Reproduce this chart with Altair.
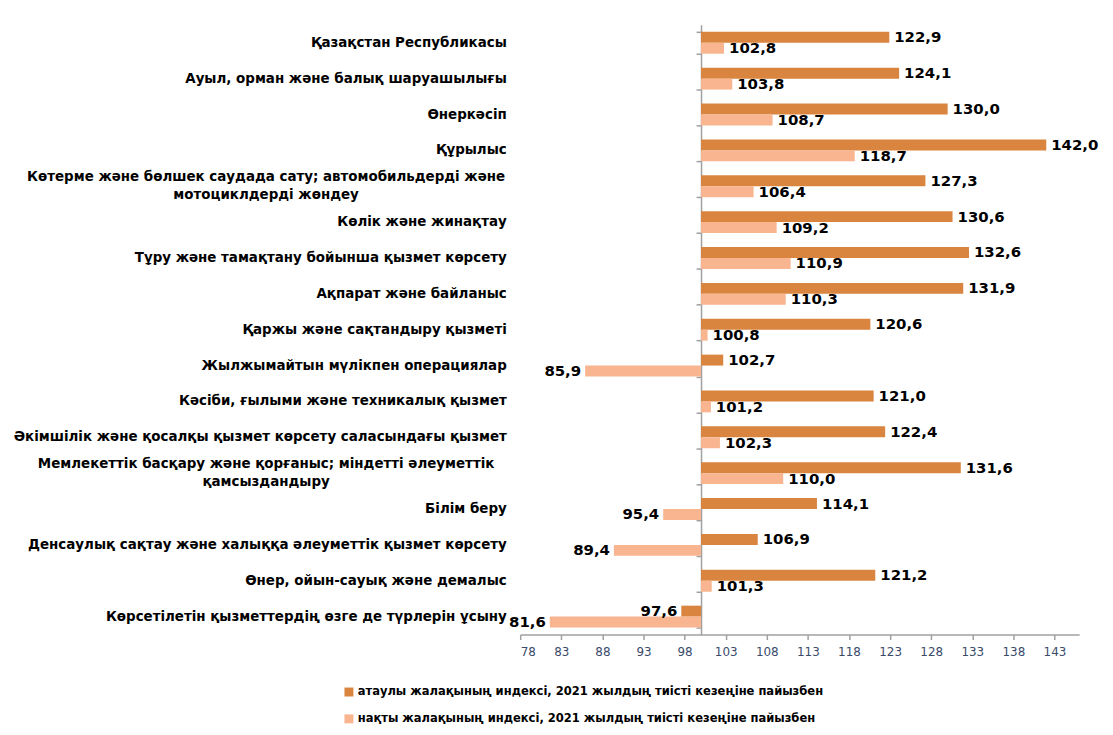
import altair as alt
import pandas as pd

categories = [
    "Қазақстан Республикасы",
    "Ауыл, орман және балық шаруашылығы",
    "Өнеркәсіп",
    "Құрылыс",
    "Көтерме және бөлшек саудада сату; автомобильдерді және|мотоциклдерді жөндеу",
    "Көлік және жинақтау",
    "Тұру және тамақтану бойынша қызмет көрсету",
    "Ақпарат және байланыс",
    "Қаржы және сақтандыру қызметі",
    "Жылжымайтын мүлікпен операциялар",
    "Кәсіби, ғылыми және техникалық қызмет",
    "Әкімшілік және қосалқы қызмет көрсету саласындағы қызмет",
    "Мемлекеттік басқару және қорғаныс; міндетті әлеуметтік|қамсыздандыру",
    "Білім беру",
    "Денсаулық сақтау және халыққа әлеуметтік қызмет көрсету",
    "Өнер, ойын-сауық және демалыс",
    "Көрсетілетін қызметтердің өзге де түрлерін ұсыну",
]
nominal = [122.9, 124.1, 130.0, 142.0, 127.3, 130.6, 132.6, 131.9, 120.6, 102.7,
           121.0, 122.4, 131.6, 114.1, 106.9, 121.2, 97.6]
real = [102.8, 103.8, 108.7, 118.7, 106.4, 109.2, 110.9, 110.3, 100.8, 85.9,
        101.2, 102.3, 110.0, 95.4, 89.4, 101.3, 81.6]
series_names = [
    "атаулы жалақының индексі, 2021 жылдың тиісті кезеңіне пайызбен",
    "нақты жалақының индексі, 2021 жылдың тиісті кезеңіне пайызбен",
]
x_ticks = [78, 83, 88, 93, 98, 103, 108, 113, 118, 123, 128, 133, 138, 143]

rows = []
for c, a, b in zip(categories, nominal, real):
    rows.append({"cat": c, "series": series_names[0], "value": a})
    rows.append({"cat": c, "series": series_names[1], "value": b})
df = pd.DataFrame(rows)

FONT = "DejaVu Sans"
DARK = "#D9843F"
LIGHT = "#F8B58F"
AXIS_GRAY = "#A0A0A0"
PLOT_W = 562
PLOT_H = 613
X_MIN, X_MAX = 78, 146
CAT_FS = 13.5

x_enc = alt.X(
    "value:Q",
    title=None,
    scale=alt.Scale(domain=[X_MIN, X_MAX], nice=False, zero=False),
    axis=alt.Axis(
        values=x_ticks, format="d", tickSize=5, tickColor=AXIS_GRAY, tickWidth=1.5,
        domainColor=AXIS_GRAY, domainWidth=1.5, labelFont=FONT, labelFontSize=12,
        labelColor="#3A4A6A", labelPadding=7, grid=False,
    ),
)
y_scale = alt.Scale(paddingInner=0.39, paddingOuter=0.195)
yoff = alt.YOffset("series:N", sort=series_names,
                   scale=alt.Scale(paddingInner=0, paddingOuter=0))

base = alt.Chart(df).transform_calculate(
    label="replace(format(datum.value, '.1f'), '.', ',')"
)

bars = base.mark_bar().encode(
    x=x_enc,
    x2=alt.datum(100),
    y=alt.Y("cat:N", sort=categories, scale=y_scale, title=None,
            axis=alt.Axis(orient="left", domain=False, ticks=False, labelPadding=14,
                          labelFont=FONT, labelFontWeight="bold", labelFontSize=CAT_FS,
                          labelColor="black", labelLimit=700,
                          labelExpr="indexof(datum.label, '|') >= 0 ? '' : datum.label")),
    yOffset=yoff,
    color=alt.Color("series:N", sort=series_names,
                    scale=alt.Scale(domain=series_names, range=[DARK, LIGHT]),
                    legend=alt.Legend(title=None, orient="none", legendX=-178, legendY=665,
                                      direction="vertical", symbolType="square",
                                      symbolSize=81, symbolStrokeWidth=0,
                                      labelFont=FONT, labelFontWeight="bold",
                                      labelFontSize=11.6, labelColor="black",
                                      labelLimit=700, rowPadding=14, labelOffset=3)),
)

multi_axis = base.mark_point(opacity=0, size=0).encode(
    x=x_enc,
    y=alt.Y("cat:N", sort=categories, scale=y_scale, title=None,
            axis=alt.Axis(orient="left", domain=False, ticks=False, labelPadding=256,
                          labelAlign="center", labelFont=FONT, labelFontWeight="bold",
                          labelFontSize=CAT_FS, labelColor="black", labelLimit=700,
                          labelLineHeight=18, labelOffset=-9,
                          labelExpr="indexof(datum.label, '|') >= 0 ? split(datum.label, '|') : ''")),
)

mid_axis = base.mark_point(opacity=0, size=0).encode(
    x=x_enc,
    y=alt.Y("cat:N", sort=categories, scale=y_scale, title=None,
            axis=alt.Axis(orient="left", offset=-(100 - X_MIN) / (X_MAX - X_MIN) * PLOT_W,
                          labels=False, domain=True, domainColor=AXIS_GRAY,
                          domainWidth=1.5, ticks=True, tickBand="extent", tickSize=5,
                          tickColor=AXIS_GRAY, tickWidth=1.5)),
)

txt_style = dict(font=FONT, fontWeight="bold", fontSize=15, color="black", baseline="middle")
y_plain = alt.Y("cat:N", sort=categories, scale=y_scale, axis=None)

labels_up = base.transform_filter("datum.value >= 100").mark_text(
    align="left", dx=5, **txt_style
).encode(x=x_enc, y=y_plain, yOffset=yoff, text="label:N")

labels_down = base.transform_filter("datum.value < 100").mark_text(
    align="right", dx=-4, **txt_style
).encode(x=x_enc, y=y_plain, yOffset=yoff, text="label:N")

chart = (
    alt.layer(bars, multi_axis, mid_axis, labels_up, labels_down)
    .resolve_axis(y="independent")
    .properties(
        width=PLOT_W, height=PLOT_H,
        autosize=alt.AutoSizeParams(type="none"),
        padding={"left": 515, "top": 15, "right": 26, "bottom": 91},
    )
    .configure_view(stroke=None)
    .configure_axis(grid=False)
)

chart.save("out.html", embed_options={"renderer": "svg", "actions": False})
